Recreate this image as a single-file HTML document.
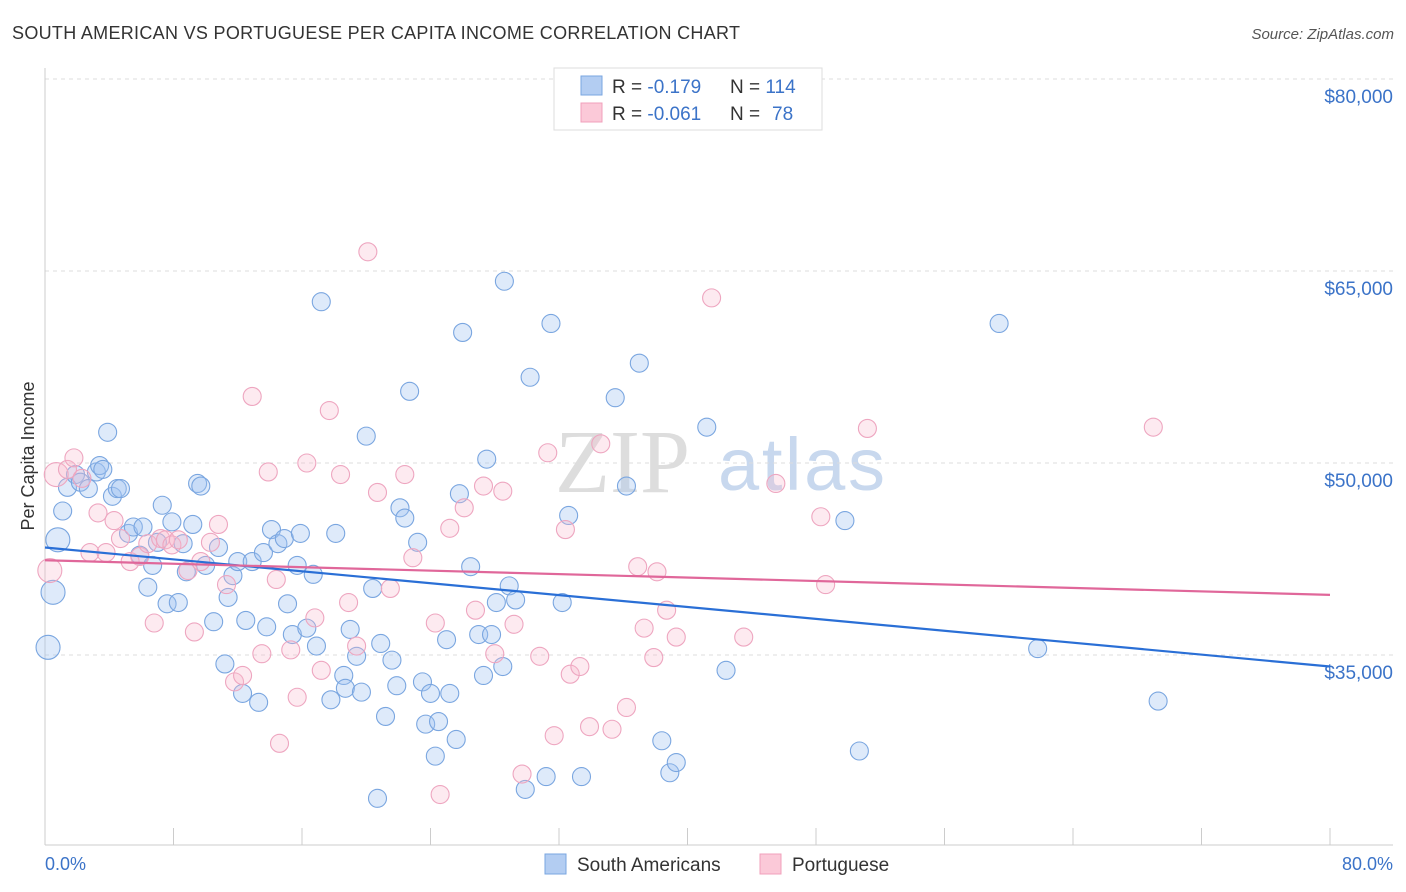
<!DOCTYPE html>
<html><head><meta charset="utf-8">
<style>
body{margin:0;background:#fff;font-family:"Liberation Sans",sans-serif;}
#wrap{position:relative;width:1406px;height:892px;overflow:hidden;}
</style></head>
<body>
<div id="wrap">
<svg id="chart" width="1406" height="892" xmlns="http://www.w3.org/2000/svg">
<text x="12" y="39" font-size="18" fill="#333" textLength="728">SOUTH AMERICAN VS PORTUGUESE PER CAPITA INCOME CORRELATION CHART</text>
<text x="1394" y="39" font-size="15" fill="#555" font-style="italic" text-anchor="end">Source: ZipAtlas.com</text>
<text x="34" y="456" font-size="18" fill="#333" text-anchor="middle" transform="rotate(-90 34 456)">Per Capita Income</text>
<text x="555" y="492" font-size="90" fill="#ddd" font-family="Liberation Serif">ZIP</text>
<text x="718" y="490" font-size="74" fill="#c8d8ee" textLength="167">atlas</text>
<g id="grid"></g>
<g id="axes"></g>
<g id="pts"></g>
<g id="trend"></g>
<g>
<rect x="554" y="68" width="268" height="62" fill="#fff" stroke="#ddd"/>
<rect x="581" y="76" width="21" height="19" fill="#b3cdf2" stroke="#7aa6e0"/>
<rect x="581" y="103" width="21" height="19" fill="#fbc9d8" stroke="#f0a0bb"/>
<text x="612" y="93" font-size="19" fill="#333">R = <tspan fill="#3b73c8">-0.179</tspan><tspan x="730">N = </tspan><tspan fill="#3b73c8">114</tspan></text>
<text x="612" y="120" font-size="19" fill="#333">R = <tspan fill="#3b73c8">-0.061</tspan><tspan x="730">N = </tspan><tspan fill="#3b73c8" x="772">78</tspan></text>
</g>
<g>
<rect x="545" y="854" width="21" height="20" fill="#b3cdf2" stroke="#7aa6e0"/>
<text x="577" y="871" font-size="19" fill="#333">South Americans</text>
<rect x="760" y="854" width="21" height="20" fill="#fbc9d8" stroke="#f0a0bb"/>
<text x="792" y="871" font-size="19" fill="#333">Portuguese</text>
</g>
<text x="45" y="870" font-size="18" fill="#3b73c8">0.0%</text>
<text x="1393" y="870" font-size="18" fill="#3b73c8" text-anchor="end">80.0%</text>
</svg>
</div>
<script>
const yTicks=[35000,50000,65000,80000];
const yTickLabels=["$35,000","$50,000","$65,000","$80,000"];
const xTicks=[0,8,16,24,32,40,48,56,64,72,80];
const blueX=[0.19,0.5,0.8,1.1,1.4,1.9,2.2,2.7,3.2,3.4,3.6,3.9,4.2,4.5,4.7,5.2,5.5,5.9,6.1,6.4,6.7,7.0,7.3,7.6,7.9,8.3,8.6,8.8,9.2,9.5,9.7,10.0,10.5,10.8,11.2,11.4,11.7,12.0,12.3,12.5,12.9,13.3,13.6,13.8,14.1,14.5,14.9,15.1,15.4,15.7,15.9,16.3,16.7,16.9,17.2,17.8,18.1,18.6,18.7,19.0,19.4,19.7,20.0,20.4,20.7,20.9,21.2,21.6,21.9,22.1,22.4,22.7,23.2,23.5,23.7,24.0,24.3,24.5,25.0,25.2,25.6,25.8,26.0,26.5,27.0,27.3,27.5,27.8,28.1,28.5,28.6,28.9,29.3,29.9,30.2,31.2,31.5,32.2,32.6,33.4,35.5,36.2,37.0,38.4,38.9,39.3,41.2,42.4,49.8,50.7,59.4,61.8,69.3];
const blueY=[35.6,39.9,44.0,46.25,48.1,49.1,48.5,48.0,49.3,49.8,49.5,52.4,47.4,48.0,48.0,44.5,45.0,42.8,45.0,40.3,42.0,43.8,46.7,39.0,45.4,39.1,43.7,41.5,45.2,48.4,48.2,42.0,37.6,43.4,34.3,39.5,41.2,42.3,32.0,37.7,42.3,31.3,43.0,37.2,44.8,43.7,44.1,39.0,36.6,42.0,44.5,37.1,41.3,35.7,62.6,31.5,44.5,33.4,32.4,37.0,34.9,32.1,52.1,40.2,23.8,35.9,30.2,34.6,32.6,46.5,45.7,55.6,43.8,32.9,29.6,32.0,27.1,29.8,36.2,32.0,28.4,47.6,60.2,41.9,36.6,33.4,50.3,36.6,39.1,34.1,64.2,40.4,39.3,24.5,56.7,25.5,60.9,39.1,45.9,25.5,55.1,48.2,57.8,28.3,25.8,26.6,52.8,33.8,45.5,27.5,60.9,35.5,31.4];
const pinkX=[0.3,0.7,1.4,1.8,2.3,2.8,3.3,3.8,4.3,4.7,5.3,5.9,6.4,6.8,7.2,7.5,7.9,8.3,8.9,9.3,9.7,10.3,10.8,11.3,11.8,12.3,12.9,13.5,13.9,14.4,14.6,15.3,15.7,16.3,16.8,17.2,17.7,18.4,18.9,19.4,20.1,20.7,21.5,22.4,22.9,24.3,25.2,26.1,26.8,27.3,28.0,28.5,29.2,29.7,30.8,31.3,31.7,32.4,32.7,33.3,33.9,34.6,35.3,36.2,36.9,37.3,37.9,38.1,38.7,39.3,41.5,43.5,45.5,48.3,48.6,51.2,69.0,24.6];
const pinkY=[41.6,49.1,49.5,50.4,48.8,43.0,46.1,43.0,45.5,44.1,42.3,42.7,43.7,37.5,44.1,44.0,43.6,44.0,41.6,36.8,42.3,43.8,45.2,40.5,32.9,33.4,55.2,35.1,49.3,40.9,28.1,35.4,31.7,50.0,37.9,33.8,54.1,49.1,39.1,35.7,66.5,47.7,40.2,49.1,42.6,37.5,44.9,46.5,38.5,48.2,35.1,47.8,37.4,25.7,34.9,50.8,28.7,44.8,33.5,34.1,29.4,51.5,29.2,30.9,41.9,37.1,34.8,41.5,38.5,36.4,62.9,36.4,48.4,45.8,40.5,52.7,52.8,24.1];
const blueTrend=[[0,43.4],[80,34.1]];
const pinkTrend=[[0,42.4],[80,39.7]];
const NS="http://www.w3.org/2000/svg";
function xs(v){return 45+v/80*1285;}
function ys(v){return 79+(80-v)*12.8;}
function mk(tag,attrs,parent){const e=document.createElementNS(NS,tag);for(const k in attrs)e.setAttribute(k,attrs[k]);document.getElementById(parent).appendChild(e);return e;}
yTicks.forEach((t,i)=>{
 const g=mk('line',{x1:45,x2:1393,y1:ys(t/1000),y2:ys(t/1000),stroke:'#ddd','stroke-dasharray':'4,4'},'grid');
 
 
 const l=mk('text',{x:1393,y:ys(t/1000)+24,'font-size':19,fill:'#3b73c8','text-anchor':'end'},'grid');
 l.textContent=yTickLabels[i];
 
 
});
const ax=mk('line',{x1:45,x2:1393,y1:845,y2:845,stroke:'#ccc'},'axes');


const ay=mk('line',{x1:45,x2:45,y1:68,y2:845,stroke:'#ccc'},'axes');


xTicks.forEach(t=>{
 const k=mk('line',{x1:xs(t),x2:xs(t),y1:828,y2:845,stroke:'#ccc'},'axes');
 
 
});
function dots(X,Y,fill,stroke,name){
 X.forEach((x,i)=>{
  let r=9;
  if(x<1){r=12;}
  const c=mk('circle',{cx:xs(x),cy:ys(Y[i]),r:r,fill:fill,stroke:stroke,'stroke-width':1.1},'pts');
  
  
 });
}
dots(blueX,blueY,'rgba(160,195,240,0.35)','#7aa6e0','south-american-point');
dots(pinkX,pinkY,'rgba(248,185,205,0.3)','#eea6c0','portuguese-point');
function trend(T,col,name){
 const l=mk('line',{x1:xs(T[0][0]),y1:ys(T[0][1]),x2:xs(T[1][0]),y2:ys(T[1][1]),stroke:col,'stroke-width':2.2},'trend');
 
 
}
trend(blueTrend,'#2a6fd6','south-american-trendline');
trend(pinkTrend,'#e0679a','portuguese-trendline');
</script>
</body></html>
